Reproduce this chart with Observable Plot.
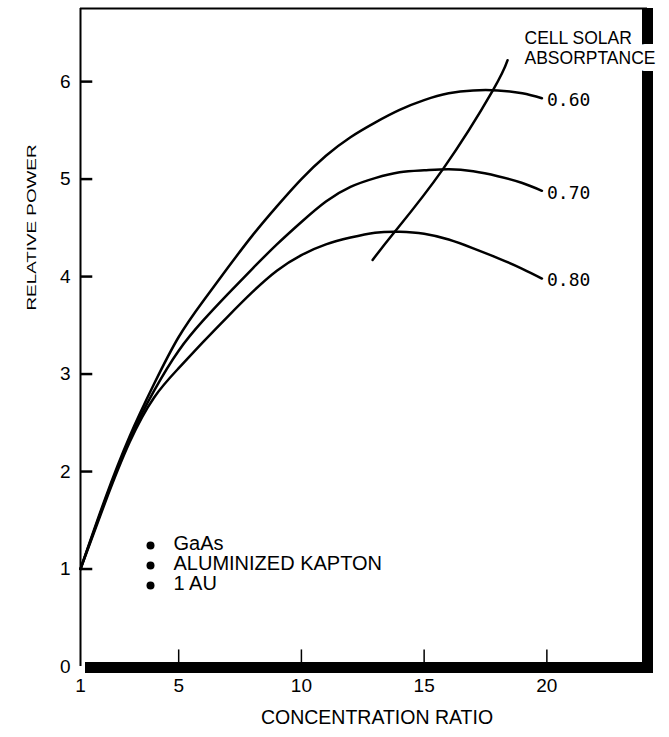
<!DOCTYPE html>
<html><head><meta charset="utf-8">
<script src="https://cdn.jsdelivr.net/npm/d3@7"></script>
<script src="https://cdn.jsdelivr.net/npm/@observablehq/plot@0.6"></script>
<style>body{margin:0;background:#fff} #chart svg{display:block}</style>
</head><body><div id="chart"></div>
<script>
// Concentration ratio (x) and relative power (y)
const concentration = [1,2,3,4,5,6,7,8,9,10,11,12,13,14,15,16,17,18,19,19.8];
const power060 = [1.00,1.72,2.36,2.90,3.38,3.75,4.09,4.42,4.72,5.00,5.24,5.43,5.58,5.71,5.81,5.88,5.91,5.91,5.88,5.83];
const power070 = [1.00,1.70,2.33,2.83,3.24,3.55,3.82,4.08,4.33,4.56,4.77,4.92,5.01,5.07,5.09,5.10,5.08,5.03,4.96,4.88];
const power080 = [1.00,1.68,2.30,2.76,3.06,3.33,3.59,3.84,4.06,4.22,4.33,4.40,4.45,4.46,4.44,4.38,4.29,4.19,4.08,3.98];
const absorptance = ["0.60","0.70","0.80"];
// Locus of maxima
const locusConcentration = [12.9,13.77,15.76,17.8,18.4];
const locusPower = [4.17,4.45,5.10,5.91,6.22];
// Axis ticks
const xTicks = [1,5,10,15,20];
const yTicks = [0,1,2,3,4,5,6];
// Texts
const legendItems = ["GaAs","ALUMINIZED KAPTON","1 AU"];
const noteLines = ["CELL SOLAR","ABSORPTANCE"];
const xLabel = "CONCENTRATION RATIO";
const yLabel = "RELATIVE POWER";

const series = [power060, power070, power080];
const curves = series.flatMap((vals, s) => concentration.map((c, i) => ({c, p: vals[i], label: absorptance[s]})));
const locus = locusConcentration.map((c, i) => ({c, p: locusPower[i]}));
const xMin = 1, xMax = 24.1, yMin = 0, yMax = 6.75;
const yTickLen = 0.5, xTickLen = 0.17;
const yTickRows = yTicks.filter(d => d > 0).map(v => ({v, a: xMin, b: xMin + yTickLen}));
const xTickRows = xTicks.filter(d => d > 1).map(v => ({v, a: yMin, b: yMin + xTickLen}));
const font = "'Liberation Sans', Arial, sans-serif";
const noteOpts = {frameAnchor: "top-right", textAnchor: "start", lineAnchor: "middle", dx: -123, fontSize: 17.5, fill: "black", stroke: "white"};

const plot = Plot.plot({
  width: 669, height: 737,
  marginLeft: 80, marginRight: 22, marginTop: 8, marginBottom: 71,
  style: {fontFamily: font, fontSize: "19px", color: "#000", background: "#fff"},
  x: {domain: [xMin, xMax], ticks: xTicks, tickSize: 0, tickPadding: 12, tickFormat: d => String(d), label: null},
  y: {domain: [yMin, yMax], ticks: yTicks, tickSize: 0, tickPadding: 10, tickFormat: d => String(d), label: null},
  marks: [
    Plot.ruleX([xMin], {strokeWidth: 2}),
    Plot.ruleY([yMax], {strokeWidth: 2}),
    Plot.ruleY(yTickRows, {y: "v", x1: "a", x2: "b", stroke: "black", strokeWidth: 2.5}),
    Plot.ruleX(xTickRows, {x: "v", y1: "a", y2: "b", stroke: "black", strokeWidth: 1.5}),
    Plot.line(curves, {x: "c", y: "p", z: "label", curve: "natural", strokeWidth: 2.5}),
    Plot.line(locus, {x: "c", y: "p", curve: "natural", strokeWidth: 2.5}),
    Plot.text(curves, Plot.selectLast({x: "c", y: "p", z: "label", text: "label", textAnchor: "start", dx: 5, dy: 2,
      fontFamily: "'DejaVu Sans Mono', monospace", fontSize: 18})),
    Plot.ruleY([yMin], {strokeWidth: 11, dy: 1, insetLeft: 5, insetRight: -6}),
    Plot.ruleX([xMax], {strokeWidth: 11, insetBottom: -7}),
    Plot.text([noteLines[1]], {...noteOpts, dy: 50, strokeWidth: 14}),
    Plot.text([noteLines[0]], {...noteOpts, dy: 30, strokeWidth: 3}),
    ...legendItems.flatMap((t, i) => [
      Plot.dot([t], {frameAnchor: "bottom-left", dx: 70, dy: -121 + 20 * i, r: 4, fill: "black"}),
      Plot.text([t], {frameAnchor: "bottom-left", dx: 93, dy: -117 + 20 * i, textAnchor: "start", fontSize: 20})
    ]),
    Plot.text([xLabel], {frameAnchor: "bottom", dx: 13, dy: 57, fontSize: 19.5}),
    Plot.text([yLabel], {frameAnchor: "left", rotate: -90, dx: -48, dy: -27, fontSize: 12, fill: "black"})
  ]
});
document.getElementById("chart").appendChild(plot);
d3.select(plot).selectAll("text").filter(function() { return this.textContent === yLabel; })
  .attr("textLength", 166).attr("lengthAdjust", "spacingAndGlyphs");
</script>
</body></html>
